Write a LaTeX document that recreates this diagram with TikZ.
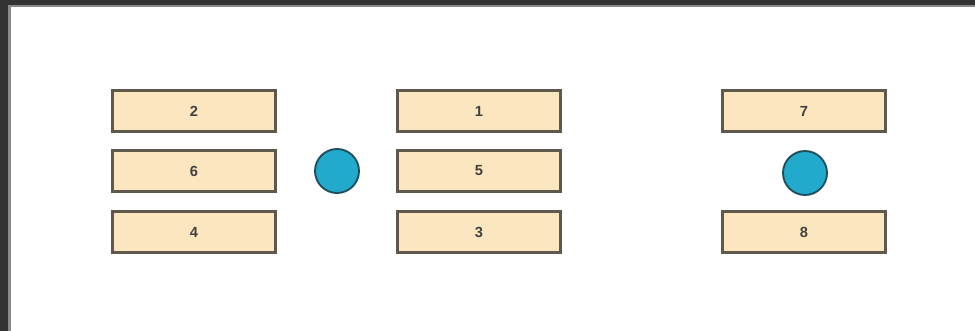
\documentclass[tikz,border=0pt]{standalone}
\usepackage{fontspec}
\setmainfont{Liberation Sans}
\definecolor{boxfill}{HTML}{FCE6C0}
\definecolor{boxline}{HTML}{5E584D}
\definecolor{dotfill}{HTML}{22AACC}
\definecolor{dotline}{HTML}{1F4F5E}
\definecolor{frame}{HTML}{333333}
\definecolor{frameg}{HTML}{8A8A8A}
\begin{document}
\begin{tikzpicture}[x=0.75pt,y=-0.75pt,
  slot/.style={draw=boxline,fill=boxfill,line width=1.8pt,minimum width=122pt,minimum height=31pt,inner sep=0pt,font=\fontsize{11}{13}\selectfont\bfseries,text=black!75},
  dot/.style={circle,draw=dotline,fill=dotfill,line width=1.4pt,minimum size=33pt,inner sep=0pt}]
\useasboundingbox (0,0) rectangle (975,331);
\fill[white] (0,0) rectangle (975,331);
\fill[frame] (0,0) rectangle (975,5);
\fill[frame] (0,0) rectangle (8,331);
\fill[frameg] (8,5) rectangle (975,7.5);
\fill[frameg] (8,5) rectangle (10.5,331);
\node[slot] (b2) at (194,111) {2};
\node[slot] (b6) at (194,171) {6};
\node[slot] (b4) at (194,232) {4};
\node[dot] (c1) at (337,171) {};
\node[slot] (b1) at (479,111) {1};
\node[slot] (b5) at (479,171) {5};
\node[slot] (b3) at (479,232) {3};
\node[slot] (b7) at (804,111) {7};
\node[dot] (c2) at (805,173) {};
\node[slot] (b8) at (804,232) {8};
\end{tikzpicture}
\end{document}
